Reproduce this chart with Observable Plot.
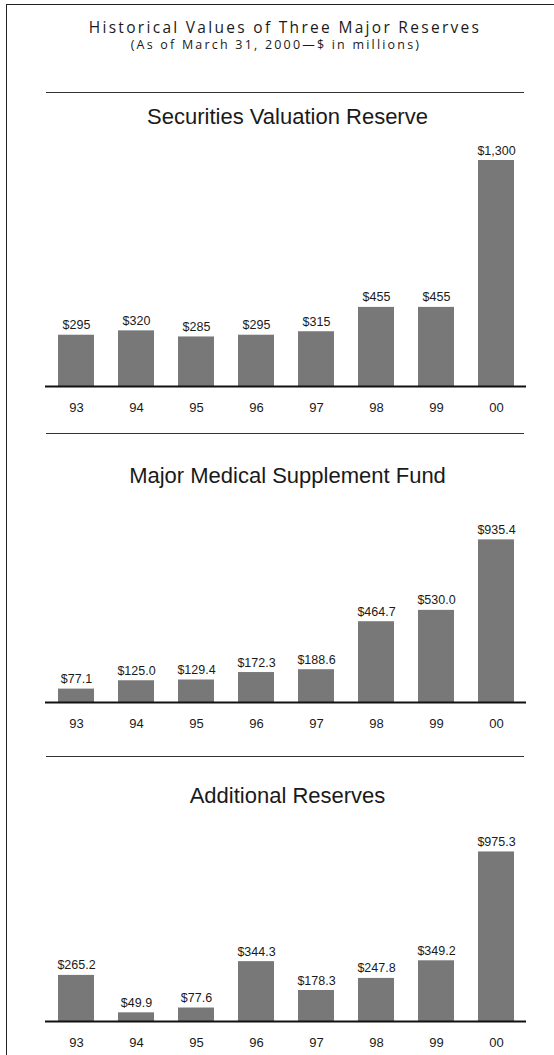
<!DOCTYPE html>
<html>
<head>
<meta charset="utf-8">
<script src="https://cdn.jsdelivr.net/npm/d3@7"></script>
<script src="https://cdn.jsdelivr.net/npm/@observablehq/plot@0.6"></script>
<style>
  html, body { margin: 0; padding: 0; background: #fff; }
  #wrap { position: relative; width: 554px; height: 1055px; overflow: hidden; background: #fff; }
  .frame { position: absolute; left: 6px; top: 4px; right: -10px; bottom: -10px;
           border-top: 1.5px solid #222; border-left: 1.5px solid #222; }
  .t { position: absolute; white-space: nowrap; line-height: 1; transform: translateX(-50%); color: #1a1a1a; }
  .main { font-family: "Open Sans", "Noto Sans", sans-serif; }
  .sec { font-family: "Liberation Sans", Arial, sans-serif; font-size: 22px; }
  .hr { position: absolute; left: 46px; width: 478px; height: 0; border-top: 1.3px solid #333; }
  .panel { position: absolute; left: 0; }
</style>
</head>
<body>
<div id="wrap">
  <div class="frame"></div>
</div>
<script>
const years = ["93", "94", "95", "96", "97", "98", "99", "00"];
const securitiesValuation = [295, 320, 285, 295, 315, 455, 455, 1300];
const majorMedical = [77.1, 125.0, 129.4, 172.3, 188.6, 464.7, 530.0, 935.4];
const additionalReserves = [265.2, 49.9, 77.6, 344.3, 178.3, 247.8, 349.2, 975.3];
const panelTitles = ["Securities Valuation Reserve", "Major Medical Supplement Fund", "Additional Reserves"];
const chartTitle = "Historical Values of Three Major Reserves";
const chartSubtitle = "(As of March 31, 2000\u2014$ in millions)";

const wrap = document.getElementById("wrap");

function addText(txt, cls, left, top, size, ls) {
  const d = document.createElement("div");
  d.className = "t " + cls;
  d.textContent = txt;
  d.style.left = left + "px";
  d.style.top = top + "px";
  if (size) d.style.fontSize = size + "px";
  if (ls) d.style.letterSpacing = ls + "px";
  wrap.appendChild(d);
}
function addRule(top) {
  const d = document.createElement("div");
  d.className = "hr";
  d.style.top = top + "px";
  wrap.appendChild(d);
}

addText(chartTitle, "main", 285, 19.5, 15.5, 2.3);
addText(chartSubtitle, "main", 276, 38.5, 12.5, 2.2);

const fmt0 = d3.format("$,.0f");
const fmt1 = d3.format("$,.1f");

function panel(values, fmt) {
  const data = years.map((y, i) => ({year: y, value: values[i]}));
  return Plot.plot({
    width: 554,
    height: 286,
    marginTop: 20,
    marginBottom: 40,
    marginLeft: 45,
    marginRight: 28,
    style: {fontFamily: "'Liberation Sans', Arial, sans-serif", fontSize: "13px", background: "transparent", color: "#1a1a1a"},
    x: {type: "band", domain: years, paddingInner: 0.4, paddingOuter: 0.2, label: null, tickSize: 0, tickPadding: 16},
    y: {domain: [0, 1300], axis: null},
    marks: [
      Plot.barY(data, {x: "year", y: "value", fill: "#787878"}),
      Plot.ruleY([0], {stroke: "#111", strokeWidth: 1.8}),
      Plot.text(data, {x: "year", y: "value", text: d => fmt(d.value), lineAnchor: "bottom", dy: -6, fontSize: 12.5, fill: "#1a1a1a"})
    ]
  });
}

const panels = [
  {values: securitiesValuation, fmt: fmt0, hr: 92, titleTop: 106.4, svgTop: 140},
  {values: majorMedical, fmt: fmt1, hr: 433.3, titleTop: 465.4, svgTop: 455.7},
  {values: additionalReserves, fmt: fmt1, hr: 755.7, titleTop: 785.4, svgTop: 774.7}
];

panels.forEach((p, i) => {
  addRule(p.hr);
  addText(panelTitles[i], "sec", 287.5, p.titleTop);
  const svg = panel(p.values, p.fmt);
  const holder = document.createElement("div");
  holder.className = "panel";
  holder.style.top = p.svgTop + "px";
  holder.appendChild(svg);
  wrap.appendChild(holder);
});
</script>
</body>
</html>
